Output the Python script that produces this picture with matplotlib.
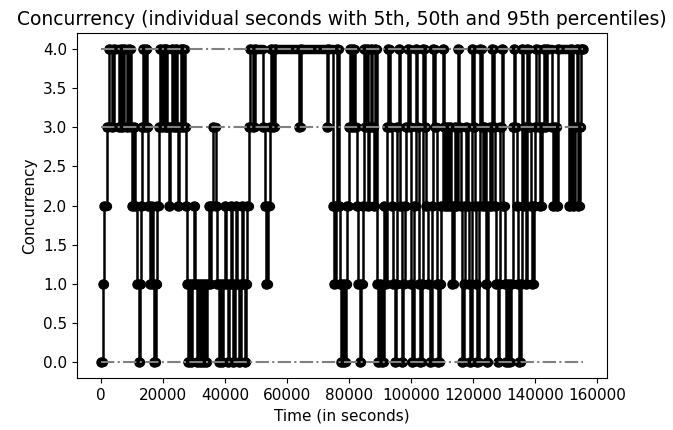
import numpy as np
import matplotlib
matplotlib.use("Agg")
import matplotlib.pyplot as plt

# concurrency level changes: start time of each run (s) and its level
t_start = [0, 500, 1100, 1900, 2400, 3500, 4200, 5700, 6300, 6800, 7400, 8400, 9000, 9500, 10100,
           10700, 11100, 11500, 12200, 12600, 12900, 13200, 13400, 14000, 14400, 14900, 15300, 15700,
           16200, 16600, 17200, 17700, 18100, 18600, 19000, 19700, 20300, 20800, 21100, 21400, 21900,
           22400, 23000, 23500, 24100, 24600, 24900, 25300, 25700, 26200, 26600, 27000, 27300, 27600]
c_start = [0, 1, 2, 3, 4, 3, 4, 3, 4, 3, 4, 3, 4, 3, 2,
           3, 2, 1, 0, 1, 2, 3, 4, 3, 4, 3, 2, 1,
           2, 1, 0, 1, 2, 3, 4, 3, 4, 3, 4, 3, 2,
           3, 4, 3, 4, 3, 2, 3, 4, 3, 4, 3, 2, 1]

t_low = [27900, 28400, 28900, 29400, 29900, 30400, 30800, 31300, 31800, 32300, 32800, 33300, 33800,
         34300, 34700, 35200, 35600, 36100, 37000, 37500, 38000, 38500, 39000, 39500, 40000, 40400,
         40900, 41400, 41800, 42200, 42700, 43200, 43600, 44000, 44500, 45000, 45400, 45800, 46300,
         46800, 47200, 47600]
c_low = [0, 1, 0, 1, 2, 1, 0, 1, 0, 1, 0, 1, 0,
         1, 2, 1, 2, 3, 2, 1, 0, 1, 0, 1, 2, 1,
         0, 1, 2, 1, 0, 1, 2, 1, 0, 1, 2, 1, 0,
         1, 2, 3]

t_high = [48000, 48900, 49600, 52400, 52900, 53300, 54000, 54600, 55000, 55500, 56000, 64000, 64600]
c_high = [4, 3, 4, 3, 2, 1, 2, 3, 4, 3, 4, 3, 4]

t_mid1 = [72800, 73300, 74800, 75300, 75800, 76200, 76700, 77100, 77500, 78000,
          78500, 79000, 79500, 80000, 80400, 81000, 81400, 82000, 82500, 83000,
          83500, 84000, 84400, 84800, 85300, 85700, 86100, 86500, 87000, 87400,
          88000, 88500, 89000, 89400, 90000, 90600, 91200, 91700, 92200, 92600,
          93200, 93900, 94300, 94700, 95200, 95600, 96000, 96500, 97000, 97500,
          98000, 98500, 99000, 99600, 100000, 100500, 101000, 101500, 102000, 102500,
          103000, 103600]
c_mid1 = [3, 4, 2, 1, 2, 4, 2, 1, 0, 1,
          0, 1, 2, 3, 4, 3, 4, 3, 2, 1,
          0, 1, 2, 4, 3, 4, 2, 3, 4, 3,
          2, 4, 1, 0, 1, 0, 2, 1, 3, 4,
          3, 2, 1, 0, 1, 3, 4, 2, 0, 1,
          2, 3, 4, 3, 1, 0, 2, 4, 3, 1,
          0, 1]

t_mid2 = [104000, 104600, 105000, 105600, 106200, 106700, 107200, 107800, 108300, 108800,
          109300, 109800, 110200, 110700, 111100, 111500, 112000, 112500, 113000, 113400,
          113900, 114300, 114700, 115100, 115600, 116000, 116500, 117000, 117500, 117900,
          118300, 118700, 119100, 119600, 120200, 120600, 121000, 121400, 121900, 122400,
          122900, 123300, 123700, 124100, 124500, 125000, 125500, 125900, 126300, 126800,
          127200, 127600, 128000, 128500, 128900, 129300, 129800, 130300, 130800, 131300,
          131800, 132300, 132800, 133200, 133700, 134100, 134500, 134900, 135400, 135800,
          136300, 136700, 137200]
c_mid2 = [4, 3, 2, 1, 0, 2, 4, 3, 1, 0,
          1, 2, 4, 3, 2, 3, 2, 3, 2, 1,
          2, 3, 2, 4, 3, 2, 0, 1, 2, 3,
          2, 1, 0, 4, 3, 2, 1, 0, 2, 4,
          3, 2, 3, 1, 0, 2, 3, 2, 4, 3,
          2, 1, 0, 1, 3, 4, 2, 1, 0, 1,
          0, 1, 3, 4, 3, 2, 1, 0, 1, 4,
          2, 3, 1]

t_end = [137600, 138200, 138700, 139100, 139600, 140000, 140500, 141200, 141700, 142200,
         142800, 143400, 144000, 145500, 146000, 146500, 147000, 147400, 150900, 151600,
         152400, 153000, 153500, 154000, 154600, 155000, 155500]
c_end = [4, 3, 2, 1, 2, 3, 4, 3, 2, 3,
         4, 3, 4, 3, 2, 3, 2, 4, 2, 4,
         2, 3, 4, 2, 3, 4, 4]

# 5th, 50th and 95th percentiles
pct_levels = [0, 3, 4]

t = np.array(t_start + t_low + t_high + t_mid1 + t_mid2 + t_end)
c = np.array(c_start + c_low + c_high + c_mid1 + c_mid2 + c_end)

fig = plt.figure(figsize=(6.73, 4.30), dpi=100)
ax = fig.add_axes([0.1144, 0.121, 0.7875, 0.802])

# thin vertical jumps + markers
ax.plot(t, c, drawstyle="steps-post", color="black", lw=1.8, marker="o", ms=6.5)
# every second is a marker in the original, so the runs show as thick bars
ax.hlines(c[:-1], t[:-1], t[1:], colors="black", lw=6.8, capstyle="round")
ax.hlines(pct_levels, t.min(), t.max(), colors="gray", linestyles="-.", lw=1.5, zorder=3)

ax.set_xlim(-0.05 * t.max(), 1.05 * t.max())
ax.set_ylim(-0.2, 4.2)
ax.set_xticks(np.arange(0, 160001, 20000))
ax.set_yticks(np.arange(0, 4.01, 0.5))
ax.tick_params(labelsize=11)
ax.set_title("Concurrency (individual seconds with 5th, 50th and 95th percentiles)", fontsize=13.5)
ax.set_xlabel("Time (in seconds)", fontsize=11)
ax.set_ylabel("Concurrency", fontsize=11)

fig.savefig("out.png", dpi=100)
